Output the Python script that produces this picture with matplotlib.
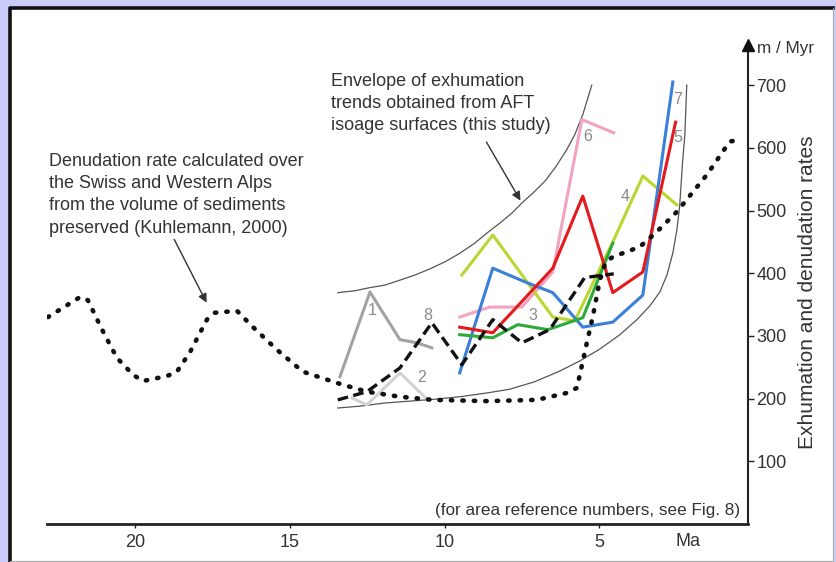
import matplotlib
matplotlib.use("Agg")
import matplotlib.pyplot as plt
from matplotlib.patches import Rectangle
from matplotlib.lines import Line2D

# ---------------------------------------------------------------- data (Ma, m/Myr)
kuhl_ma = [22.82, 21.78, 21.53, 21.07, 20.59, 20.07, 19.75, 18.97, 18.65, 18.23,
           17.68, 17.42, 16.71, 16.19, 15.42, 14.58, 13.48, 12.51, 11.44, 10.38,
           8.63, 7.01, 6.05, 5.72, 5.40, 5.21, 4.98, 4.79, 4.56, 3.69, 3.14,
           2.49, 1.52, 0.78, 0.45]
kuhl_v = [330, 362, 357, 310, 265, 238, 228, 236, 243, 274,
          326, 337, 340, 314, 278, 243, 225, 211, 203, 198,
          196, 198, 209, 217, 289, 330, 389, 418, 426, 442, 466,
          498, 557, 610, 613]

env_up_ma = [13.45, 12.90, 12.41, 11.93, 11.44, 10.96, 10.47, 9.99, 9.50, 9.02, 8.63,
             8.21, 7.82, 7.50, 7.14, 6.75, 6.40, 6.05, 5.79, 5.53, 5.24]
env_up_v = [369, 372, 377, 381, 389, 397, 407, 418, 432, 448, 464,
            480, 496, 512, 528, 547, 570, 597, 621, 653, 700]

env_lo_ma = [13.45, 12.73, 11.93, 11.12, 10.31, 9.50, 8.63, 7.89, 7.08, 6.27, 5.63,
             4.98, 4.33, 3.78, 3.36, 3.04, 2.81, 2.62, 2.49, 2.40, 2.30, 2.23, 2.20, 2.17]
env_lo_v = [185, 188, 193, 196, 199, 203, 209, 215, 227, 244, 260,
            279, 302, 326, 348, 370, 397, 432, 469, 506, 581, 621, 661, 700]

s1_ma = [13.38, 12.41, 11.44, 10.89, 10.41]
s1_v = [235, 370, 294, 289, 281]

s2_ma = [12.99, 12.51, 11.44, 10.54]
s2_v = [201, 190, 241, 198]

s8_ma = [13.45, 12.51, 11.44, 10.41, 9.44, 8.44, 7.50, 6.60, 5.47, 4.53]
s8_v = [198, 211, 249, 321, 254, 326, 289, 310, 393, 399]

blue_ma = [9.51, 8.44, 7.34, 6.50, 5.53, 4.56, 3.59, 2.62]
blue_v = [241, 408, 385, 369, 314, 322, 365, 705]

red_ma = [9.51, 8.44, 6.50, 5.53, 4.56, 3.59, 2.53]
red_v = [314, 305, 408, 523, 369, 402, 641]

ygreen_ma = [9.44, 8.44, 6.50, 5.79, 4.56, 3.59, 2.49]
ygreen_v = [397, 461, 330, 324, 450, 555, 509]

green_ma = [9.51, 8.44, 7.63, 6.66, 5.53, 4.56]
green_v = [302, 297, 318, 310, 329, 448]

pink_ma = [9.51, 8.54, 7.50, 6.50, 5.56, 4.53]
pink_v = [330, 346, 346, 402, 645, 624]

area_labels = ["1", "2", "8", "3", "4", "5", "6", "7"]
area_ma = [12.35, 10.73, 10.54, 7.14, 4.17, 2.46, 5.38, 2.46]
area_v = [341, 233, 332, 332, 522, 616, 618, 677]

y_ticks = [100, 200, 300, 400, 500, 600, 700]
x_ticks = [20, 15, 10, 5]

# ---------------------------------------------------------------- style
plt.rcParams.update({
    "font.family": ["Liberation Sans", "DejaVu Sans"],
    "font.size": 12.5,
    "text.color": "#333333",
})
W, H = 837, 562
TXT = "#333333"

fig = plt.figure(figsize=(W / 100, H / 100), dpi=100, facecolor="#ccccfa")


def fx(x):
    return x / W


def fy(y):
    return 1 - y / H


# white panel with dark top/left border
fig.patches.append(Rectangle((fx(10), 0), fx(823), fy(8), transform=fig.transFigure,
                             facecolor="white", edgecolor="none", zorder=-10))
fig.lines.append(Line2D([fx(10), fx(10), fx(833)], [fy(561), fy(8), fy(8)],
                        transform=fig.transFigure, color="#111111", lw=2.6, zorder=-5))
fig.lines.append(Line2D([fx(833), fx(833), fx(10)], [fy(8), fy(561), fy(561)],
                        transform=fig.transFigure, color="#aaaaaa", lw=0.8, zorder=-5))

ax = fig.add_axes([fx(47), fy(524), fx(748) - fx(47), fy(45) - fy(524)])
ax.set_facecolor("none")
ax.set_xlim(22.85, 0.19)
ax.set_ylim(0, 764)

for s in ("top", "left"):
    ax.spines[s].set_visible(False)
ax.spines["bottom"].set_linewidth(2.0)
ax.spines["bottom"].set_color("#222222")
ax.spines["right"].set_linewidth(1.5)
ax.spines["right"].set_color("#222222")
ax.plot([1], [1], marker="^", ms=9, color="#111111", transform=ax.transAxes,
        clip_on=False, zorder=6)

ax.yaxis.tick_right()
ax.set_yticks(y_ticks)
ax.set_xticks(x_ticks)
ax.tick_params(axis="y", direction="out", length=4, width=1, pad=2,
               labelsize=13, colors="#222222", labelcolor=TXT)
ax.tick_params(axis="x", direction="out", length=3, width=1, pad=4.5,
               labelsize=13, colors="#222222", labelcolor=TXT)

# ---------------------------------------------------------------- curves
ax.plot(env_up_ma, env_up_v, color="#555555", lw=0.9, zorder=2)
ax.plot(env_lo_ma, env_lo_v, color="#555555", lw=0.9, zorder=2)

ax.plot(s2_ma, s2_v, color="#d2d2d2", lw=2.2, zorder=3)
ax.plot(s1_ma, s1_v, color="#a3a3a3", lw=2.2, zorder=3)
ax.plot(s8_ma, s8_v, color="#111111", lw=2.4, ls=(0, (3.2, 1.6)), zorder=4)
ax.plot(pink_ma, pink_v, color="#f2a3c2", lw=2.2, zorder=3)
ax.plot(ygreen_ma, ygreen_v, color="#bcd631", lw=2.2, zorder=3)
ax.plot(blue_ma, blue_v, color="#3a7fd8", lw=2.2, zorder=3)
ax.plot(green_ma, green_v, color="#2eaa3a", lw=2.2, zorder=3)
ax.plot(red_ma, red_v, color="#e41a1c", lw=2.2, zorder=3)
ax.plot(kuhl_ma, kuhl_v, color="#111111", lw=3.3, ls=(0, (0.3, 2.2)),
        dash_capstyle="round", zorder=5)

for lab, xm, yv in zip(area_labels, area_ma, area_v):
    ax.text(xm, yv, lab, fontsize=11.5, color="#8a8a8a", ha="center", va="center", zorder=6)

# ---------------------------------------------------------------- annotations
fig.text(fx(49), fy(153), "Denudation rate calculated over\nthe Swiss and Western Alps\n"
         "from the volume of sediments\npreserved (Kuhlemann, 2000)",
         ha="left", va="top", fontsize=13, linespacing=1.4, color=TXT)
ax.annotate("", xy=(17.65, 349), xytext=(18.78, 458),
            arrowprops=dict(arrowstyle="-|>", color="#333333", lw=1.0, mutation_scale=13))

fig.text(fx(331), fy(73), "Envelope of exhumation\ntrends obtained from AFT\n"
         "isoage surfaces (this study)",
         ha="left", va="top", fontsize=13, linespacing=1.4, color=TXT)
ax.annotate("", xy=(7.5, 512), xytext=(8.69, 613),
            arrowprops=dict(arrowstyle="-|>", color="#333333", lw=1.0, mutation_scale=13))

fig.text(fx(740), fy(511), "(for area reference numbers, see Fig. 8)",
         ha="right", va="center", fontsize=12.3, color=TXT)
fig.text(fx(757), fy(48), "m / Myr", ha="left", va="center", fontsize=12.3, color=TXT)
fig.text(fx(808), fy(292), "Exhumation and denudation rates", rotation=90,
         ha="center", va="center", fontsize=15, color=TXT)
fig.text(fx(688), fy(541), "Ma", ha="center", va="center", fontsize=13, color=TXT)

fig.savefig("out.png", dpi=100, facecolor=fig.get_facecolor())
